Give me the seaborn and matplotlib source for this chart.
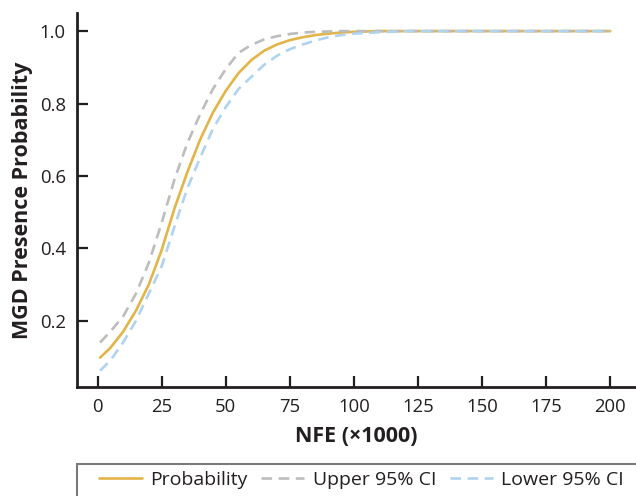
import matplotlib
matplotlib.use("Agg")
import matplotlib.pyplot as plt
import matplotlib.patches as mpatches
import seaborn as sns
import pandas as pd

# NFE (x1000) sample points
nfe = [1, 5, 10, 15, 20, 25, 30, 35, 40, 45, 50, 55, 60, 65, 70, 75, 80, 85, 90, 95, 100, 110, 120, 150, 200]
probability = [0.098, 0.125, 0.17, 0.228, 0.30, 0.395, 0.51, 0.61, 0.70, 0.775, 0.835, 0.884, 0.92, 0.946, 0.963, 0.975, 0.983, 0.989, 0.993, 0.996, 0.998, 1.0, 1.0, 1.0, 1.0]
upper_ci = [0.14, 0.17, 0.212, 0.275, 0.36, 0.47, 0.59, 0.69, 0.77, 0.84, 0.895, 0.94, 0.962, 0.977, 0.986, 0.992, 0.996, 0.998, 0.999, 1.0, 1.0, 1.0, 1.0, 1.0, 1.0]
lower_ci = [0.062, 0.09, 0.14, 0.20, 0.275, 0.35, 0.46, 0.565, 0.65, 0.73, 0.79, 0.84, 0.874, 0.907, 0.932, 0.95, 0.963, 0.974, 0.983, 0.989, 0.993, 0.997, 1.0, 1.0, 1.0]

x_ticks = [0, 25, 50, 75, 100, 125, 150, 175, 200]
y_ticks = [0.2, 0.4, 0.6, 0.8, 1.0]

sns.set_style("ticks")
plt.rcParams["font.family"] = ["Open Sans", "DejaVu Sans"]

ink = "#231f20"
fig = plt.figure(figsize=(6.36, 4.96), dpi=100)
ax = fig.add_axes([77 / 636, 1 - 387 / 496, 1 - 77 / 636, (387 - 13) / 496])

df = pd.DataFrame({"nfe": nfe, "Probability": probability,
                   "Upper 95% CI": upper_ci, "Lower 95% CI": lower_ci})

dash = (4, 2.5)
sns.lineplot(data=df, x="nfe", y="Probability", ax=ax, color="#e3b448",
             lw=1.9, label="Probability")
sns.lineplot(data=df, x="nfe", y="Upper 95% CI", ax=ax, color="#bdbdbd",
             lw=1.9, label="Upper 95% CI")
sns.lineplot(data=df, x="nfe", y="Lower 95% CI", ax=ax, color="#b0d3ef",
             lw=1.9, label="Lower 95% CI")
ax.lines[1].set_dashes(dash)
ax.lines[2].set_dashes(dash)
for ln in ax.lines:
    ln.set_solid_joinstyle("round")
    ln.set_dash_joinstyle("round")

ax.set_xlim(-8, 210)
ax.set_ylim(0.017, 1.05)
ax.set_xticks(x_ticks)
ax.set_yticks(y_ticks)
ax.set_yticklabels([f"{v:.1f}" for v in y_ticks])

for side in ["top", "right"]:
    ax.spines[side].set_visible(False)
for side in ["left", "bottom"]:
    ax.spines[side].set_linewidth(2.0)
    ax.spines[side].set_color(ink)

ax.tick_params(direction="in", length=8, width=1.6, colors=ink,
               labelsize=13.3, pad=8)

ax.set_xlabel("NFE (\u00d71000)", fontsize=15.5, fontweight="bold", color=ink)
ax.set_ylabel("MGD Presence Probability", fontsize=15.5, fontweight="bold", color=ink)
ax.xaxis.set_label_coords(0.5, -0.105)
ax.yaxis.set_label_coords(-0.079, 0.5)

handles, labels = ax.get_legend_handles_labels()
ax.get_legend().remove()
for h in handles:
    h.set_linewidth(1.9)
handles[1].set_dashes(dash)
handles[2].set_dashes(dash)

leg = fig.legend(handles, labels, loc="center left",
                 bbox_to_anchor=(89 / 636, 1 - 480 / 496), ncol=3,
                 frameon=False, borderpad=0, fontsize=14,
                 handlelength=2.2, handletextpad=0.45, columnspacing=0.7)
for t in leg.get_texts():
    t.set_color(ink)

rect = mpatches.Rectangle((77 / 636, -0.2), 1.0, 0.2 + (1 - 463.5 / 496),
                          transform=fig.transFigure, fill=False,
                          edgecolor="#7a7a7a", lw=1.5, clip_on=False)
fig.patches.append(rect)

fig.savefig("out.png", dpi=100)
